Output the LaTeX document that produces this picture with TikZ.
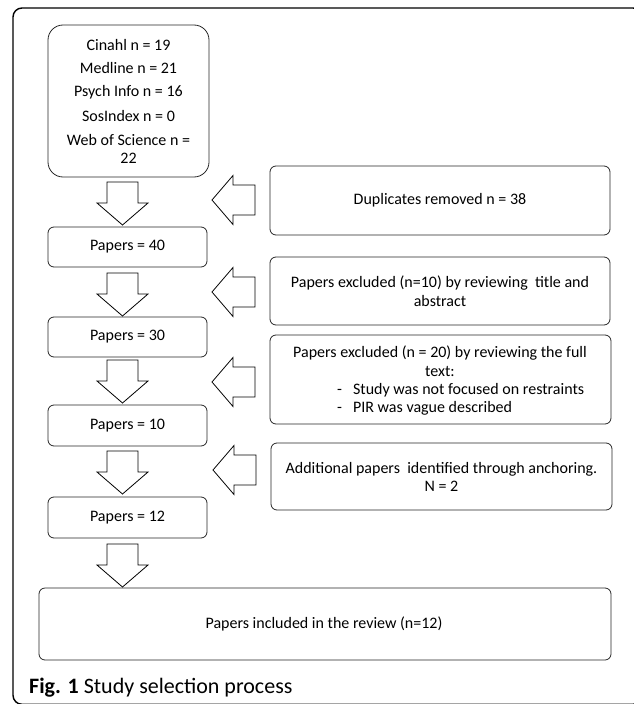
\documentclass[tikz,border=0pt]{standalone}
\usepackage{fontspec}
\setmainfont{Carlito}
\begin{document}
\begin{tikzpicture}[x=1pt,y=-1pt,
  box/.style={draw=black!85,line width=0.8pt,rounded corners=6pt},
  txt/.style={font=\fontsize{16}{18.5}\selectfont,align=center,inner sep=0pt},
  darrow/.pic={\draw[line width=0.8pt,fill=white] (-15.5,0) -- (15.5,0) -- (15.5,21) -- (25.5,21) -- (0,43) -- (-25.5,21) -- (-15.5,21) -- cycle;},
  larrow/.pic={\draw[line width=0.8pt,fill=white] (0,0) -- (21,-24.5) -- (21,-15) -- (43,-15) -- (43,15) -- (21,15) -- (21,24.5) -- cycle;}
]
\useasboundingbox (0,0) rectangle (634,704);
\begin{scope}
\clip (0,0) rectangle (634,704);
\draw[line width=1.4pt,rounded corners=9pt] (13,8) rectangle (642,704.3);
\end{scope}
% left column boxes
\draw[box,rounded corners=15pt] (48,25) rectangle (209,177);
\node[txt] (s1) at (128.5,45) {Cinahl n = 19};
\node[txt] (s2) at (128.5,68) {Medline n = 21};
\node[txt] (s3) at (128.5,92) {Psych Info n = 16};
\node[txt] (s4) at (128.5,116) {SosIndex n = 0};
\node[txt] (s5) at (128.5,149) {Web of Science n =\\22};
\draw[box] (48,227) rectangle (207,267);
\node[txt] (p40) at (127.5,247) {Papers = 40};
\draw[box] (48,317) rectangle (207,357);
\node[txt] (p30) at (127.5,337) {Papers = 30};
\draw[box] (48,405) rectangle (207,446);
\node[txt] (p10) at (127.5,425.5) {Papers = 10};
\draw[box] (48,497) rectangle (207,538);
\node[txt] (p12) at (127.5,517.5) {Papers = 12};
\draw[box] (39,588) rectangle (611,660);
\node[txt] (fin) at (324,624) {Papers included in the review (n=12)};
% right column boxes
\draw[box] (270,166) rectangle (610,235);
\node[txt] (dup) at (440,200) {Duplicates removed n = 38};
\draw[box] (270,257) rectangle (610,325);
\node[txt] (ex1) at (440,291) {Papers excluded (n=10) by reviewing\ \ title and\\abstract};
\draw[box] (270,335) rectangle (611,424);
\node[txt] (ex2) at (440,361) {Papers excluded (n = 20) by reviewing the full\\text:};
\node[txt,anchor=west] (b1) at (337,390) {-\hspace{11pt}Study was not focused on restraints};
\node[txt,anchor=west] (b2) at (337,408) {-\hspace{11pt}PIR was vague described};
\draw[box] (271,443) rectangle (612,510);
\node[txt] (add) at (441.5,477) {Additional papers\ \ identified through anchoring.\\N = 2};
% block arrows
\pic at (122.5,182) {darrow};
\pic at (122.5,273) {darrow};
\pic at (122.5,360) {darrow};
\pic at (122.5,451) {darrow};
\pic at (122.5,544) {darrow};
\pic at (212,200) {larrow};
\pic at (212,292) {larrow};
\pic at (212,382) {larrow};
\pic at (213,470) {larrow};
% caption
\node[anchor=west,inner sep=0pt,font=\fontsize{22}{26}\selectfont] (cap) at (29,688) {\textbf{Fig. 1} Study selection process};
\end{tikzpicture}
\end{document}
